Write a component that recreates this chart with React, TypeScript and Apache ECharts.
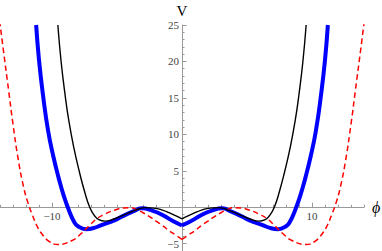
import React, { useEffect, useRef } from "react";
import * as echarts from "echarts";

// Right half (phi >= 0); the potentials are symmetric in phi.
const blackPhi = [0, 0.5, 1.0, 1.5, 2.0, 2.8, 3.5, 4.0, 4.6, 5.3, 5.9, 6.4, 6.75, 7.1, 7.5, 7.9, 8.3, 8.7, 9.0, 9.3, 9.55];
const blackV = [-1.6, -1.15, -0.75, -0.4, -0.15, -0.05, -0.35, -0.7, -1.15, -1.65, -1.9, -1.7, -1.1, 0.0, 2.2, 4.9, 8.0, 11.8, 15.5, 20.0, 25.0];

const bluePhi = [0, 0.7, 1.5, 2.3, 3.1, 3.8, 4.6, 5.2, 6.2, 6.7, 7.4, 8.0, 8.3, 8.7, 9.1, 9.5, 9.9, 10.3, 10.7, 11.0, 11.22];
const blueV = [-2.5, -1.9, -1.05, -0.45, -0.15, -0.6, -1.25, -1.8, -2.45, -2.8, -3.0, -2.6, -2.0, -0.4, 1.6, 4.1, 7.0, 10.5, 15.5, 20.2, 25.0];

const redPhi = [0, 0.5, 1.0, 1.5, 2.0, 2.5, 3.0, 3.5, 4.0, 4.5, 5.2, 6.0, 6.5, 7.0, 7.75, 8.5, 9.55, 10.2, 10.8, 11.2, 11.5, 11.85, 12.2, 12.6, 13.0, 13.35, 13.7, 14.0];
const redV = [-4.4, -3.8, -3.2, -2.5, -1.9, -1.3, -0.75, -0.3, -0.05, -0.1, -0.4, -1.0, -1.5, -2.3, -3.6, -4.6, -5.1, -4.7, -3.6, -2.4, -1.1, 0.6, 2.9, 6.6, 11.4, 16.2, 21.0, 25.2];

const xLabels = [-10, 10];
const yLabels = [-5, 5, 10, 15, 20, 25];
const xMajorTicks = [-10, 10];
const yMajorTicks = [-5, 0, 5, 10, 15, 20, 25];

const X_MIN = -14;
const X_MAX = 14;
const Y_MIN = -6;
const Y_MAX = 25;

const fmt = (v: number) => (v < 0 ? "\u2212" + String(-v) : String(v));

const right = (phi: number[], v: number[]) => phi.map((p, i) => [p, v[i]]);
const left = (phi: number[], v: number[]) => phi.map((p, i) => [-p, v[i]]);

export default function App() {
  const ref = useRef<HTMLDivElement>(null);
  useEffect(() => {
    if (!ref.current) return;
    const chart = echarts.init(ref.current, null, { renderer: "svg" });
    const W = 382;
    const H = 251;
    const gl = 0, gr = 18, gt = 25, gb = 0;
    const gw = W - gl - gr;
    const gh = H - gt - gb;
    const yAxisOffset = -((0 - X_MIN) / (X_MAX - X_MIN)) * gw;
    const xAxisOffset = -((0 - Y_MIN) / (Y_MAX - Y_MIN)) * gh;
    const axisColor = "#999";
    const labelStyle = { fontFamily: "'Liberation Serif', 'Times New Roman', serif", fontSize: 11, color: "#444" };
    const mk = (name: string, data: number[][], color: string, width: number, type: any) => ({
      name,
      type: "line",
      data,
      showSymbol: false,
      smooth: 0.5,
      clip: true,
      lineStyle: { color, width, type, cap: "butt", join: "round" },
      z: 2,
    });
    const baseX = {
      type: "value",
      min: X_MIN,
      max: X_MAX,
      position: "bottom",
      offset: xAxisOffset,
      splitLine: { show: false },
    };
    const baseY = {
      type: "value",
      min: Y_MIN,
      max: Y_MAX,
      position: "left",
      offset: yAxisOffset,
      splitLine: { show: false },
    };
    chart.setOption({
      animation: false,
      grid: { left: gl, right: gr, top: gt, bottom: gb, containLabel: false, outerBoundsMode: "none" },
      xAxis: [
        {
          ...baseX,
          interval: 1,
          name: "\u03d5",
          nameLocation: "end",
          nameGap: 8,
          nameTextStyle: { fontFamily: "'Liberation Serif', serif", fontStyle: "italic", fontSize: 16, color: "#000", verticalAlign: "middle" },
          axisLine: { onZero: false, lineStyle: { color: axisColor, width: 1 } },
          axisTick: { inside: true, length: 2.5, lineStyle: { color: axisColor } },
          axisLabel: {
            ...labelStyle,
            margin: 3,
            formatter: (v: number) => (xLabels.includes(v) ? fmt(v) : ""),
          },
        },
        {
          ...baseX,
          axisLine: { show: false, onZero: false },
          axisTick: { inside: true, length: 4.5, customValues: xMajorTicks, lineStyle: { color: axisColor } },
          axisLabel: { show: false },
        },
      ],
      yAxis: [
        {
          ...baseY,
          interval: 1,
          name: "V",
          nameLocation: "end",
          nameGap: 7,
          nameTextStyle: { fontFamily: "'Liberation Serif', serif", fontSize: 15, color: "#000", align: "center" },
          axisLine: { onZero: false, lineStyle: { color: axisColor, width: 1 } },
          axisTick: { inside: true, length: 2.5, lineStyle: { color: axisColor } },
          axisLabel: {
            ...labelStyle,
            margin: 3,
            formatter: (v: number) => (yLabels.includes(v) ? fmt(v) : ""),
          },
        },
        {
          ...baseY,
          axisLine: { show: false, onZero: false },
          axisTick: { inside: true, length: 4.5, customValues: yMajorTicks, lineStyle: { color: axisColor } },
          axisLabel: { show: false },
        },
      ],
      series: [
        mk("blueL", left(bluePhi, blueV), "#0000ff", 4, "solid"),
        mk("blueR", right(bluePhi, blueV), "#0000ff", 4, "solid"),
        mk("redL", left(redPhi, redV), "#ff0000", 1.5, [5.5, 3.5]),
        mk("redR", right(redPhi, redV), "#ff0000", 1.5, [5.5, 3.5]),
        mk("blackL", left(blackPhi, blackV), "#000000", 1.4, "solid"),
        mk("blackR", right(blackPhi, blackV), "#000000", 1.4, "solid"),
      ],
    });
    return () => chart.dispose();
  }, []);
  return (
    <div
      ref={ref}
      style={{ position: "absolute", left: 0, top: 0, width: 382, height: 251, background: "#fff" }}
    />
  );
}
